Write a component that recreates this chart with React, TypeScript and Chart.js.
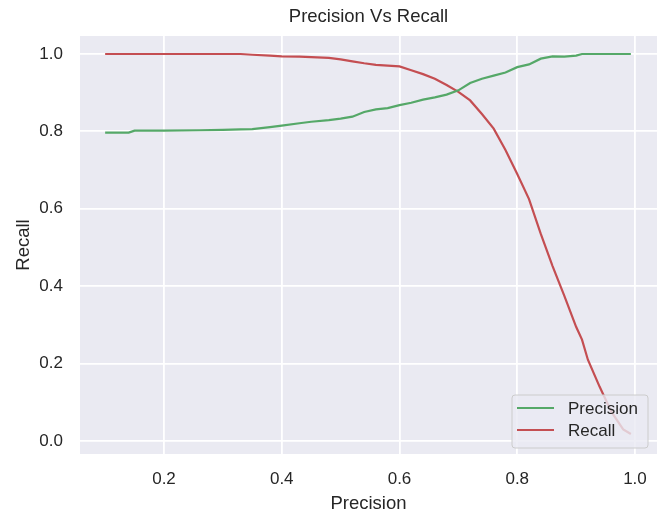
import React, { useEffect, useRef } from "react";
import { Chart, registerables } from "chart.js";

Chart.register(...registerables);

// ---- data ----
const thresholds = [
  0.10, 0.14, 0.15, 0.20, 0.26, 0.30, 0.33, 0.35, 0.38, 0.40,
  0.43, 0.45, 0.48, 0.50, 0.52, 0.54, 0.56, 0.58, 0.60, 0.62,
  0.64, 0.66, 0.68, 0.70, 0.72, 0.74, 0.76, 0.78, 0.80, 0.82,
  0.84, 0.86, 0.88, 0.90, 0.91, 0.92, 0.94, 0.96, 0.98, 0.993,
];

const precisionValues = [
  0.797, 0.797, 0.802, 0.802, 0.803, 0.804, 0.805, 0.806, 0.811, 0.815,
  0.821, 0.825, 0.829, 0.833, 0.838, 0.850, 0.857, 0.860, 0.868, 0.874,
  0.882, 0.888, 0.895, 0.906, 0.925, 0.936, 0.944, 0.952, 0.966, 0.973,
  0.988, 0.994, 0.993, 0.996, 1.0, 1.0, 1.0, 1.0, 1.0, 1.0,
];

const recallValues = [
  1.0, 1.0, 1.0, 1.0, 1.0, 1.0, 1.0, 0.998, 0.996, 0.994,
  0.993, 0.992, 0.990, 0.986, 0.981, 0.976, 0.972, 0.970, 0.968, 0.958,
  0.948, 0.936, 0.920, 0.902, 0.880, 0.845, 0.807, 0.752, 0.690, 0.625,
  0.535, 0.452, 0.375, 0.295, 0.262, 0.210, 0.140, 0.075, 0.030, 0.018,
];

const xTicks = [0.2, 0.4, 0.6, 0.8, 1.0];
const yTicks = [0.0, 0.2, 0.4, 0.6, 0.8, 1.0];

const titleText = "Precision Vs Recall";
const xTitle = "Precision";
const yTitle = "Recall";
const seriesNames = ["Precision", "Recall"];

const FONT = "'Liberation Sans', Arial, sans-serif";
const TEXT = "#262626";
const GREEN = "#55A868";
const RED = "#C44E52";
const BG = "#EAEAF2";

const bgPlugin = {
  id: "plotBg",
  beforeDraw(chart: any) {
    const { ctx, chartArea } = chart;
    ctx.save();
    ctx.fillStyle = BG;
    ctx.fillRect(chartArea.left, chartArea.top, chartArea.right - chartArea.left, chartArea.bottom - chartArea.top);
    ctx.restore();
  },
};

const legendPlugin = {
  id: "mplLegend",
  afterDatasetsDraw(chart: any) {
    const { ctx, chartArea } = chart;
    const w = 136;
    const h = 53;
    const right = chartArea.right - 9;
    const bottom = chartArea.bottom - 6;
    const left = right - w;
    const top = bottom - h;
    ctx.save();
    const r = 3;
    ctx.beginPath();
    ctx.moveTo(left + r, top);
    ctx.lineTo(right - r, top);
    ctx.arcTo(right, top, right, top + r, r);
    ctx.lineTo(right, bottom - r);
    ctx.arcTo(right, bottom, right - r, bottom, r);
    ctx.lineTo(left + r, bottom);
    ctx.arcTo(left, bottom, left, bottom - r, r);
    ctx.lineTo(left, top + r);
    ctx.arcTo(left, top, left + r, top, r);
    ctx.closePath();
    ctx.fillStyle = "rgba(234,234,242,0.8)";
    ctx.fill();
    ctx.strokeStyle = "#cccccc";
    ctx.lineWidth = 1;
    ctx.stroke();

    chart.data.datasets.forEach((ds: any, i: number) => {
      const y = top + 13 + i * 22;
      ctx.beginPath();
      ctx.moveTo(left + 5, y);
      ctx.lineTo(left + 42, y);
      ctx.strokeStyle = ds.borderColor;
      ctx.lineWidth = 2.2;
      ctx.stroke();
      ctx.fillStyle = TEXT;
      ctx.font = `17px ${FONT}`;
      ctx.textBaseline = "middle";
      ctx.textAlign = "left";
      ctx.fillText(ds.label, left + 56, y + 1);
    });
    ctx.restore();
  },
};

export default function App() {
  const canvasRef = useRef<HTMLCanvasElement | null>(null);

  useEffect(() => {
    document.body.style.margin = "0";
    const canvas = canvasRef.current;
    if (!canvas) return;
    const chart = new Chart(canvas, {
      type: "line",
      data: {
        datasets: [
          {
            label: seriesNames[0],
            data: thresholds.map((x, i) => ({ x, y: precisionValues[i] })),
            borderColor: GREEN,
            backgroundColor: GREEN,
            borderWidth: 2.2,
            pointRadius: 0,
            tension: 0,
            fill: false,
          },
          {
            label: seriesNames[1],
            data: thresholds.map((x, i) => ({ x, y: recallValues[i] })),
            borderColor: RED,
            backgroundColor: RED,
            borderWidth: 2.2,
            pointRadius: 0,
            tension: 0,
            fill: false,
          },
        ],
      },
      options: {
        responsive: false,
        animation: false,
        devicePixelRatio: 1,
        layout: { padding: { top: 0, right: 7, left: 0, bottom: 0 } },
        plugins: {
          legend: { display: false },
          tooltip: { enabled: false },
          title: {
            display: true,
            fullSize: false,
            text: titleText,
            color: TEXT,
            font: { family: FONT, size: 18.5, weight: "normal" },
            padding: { top: 6, bottom: 7.8 },
          },
        },
        scales: {
          x: {
            type: "linear",
            min: 0.0573,
            max: 1.0374,
            afterBuildTicks: (axis: any) => {
              axis.ticks = xTicks.map((v) => ({ value: v }));
            },
            afterFit: (scale: any) => {
              scale.height = 61;
            },
            border: { display: false },
            grid: { color: "#ffffff", lineWidth: 1.8, drawTicks: false },
            ticks: {
              color: TEXT,
              padding: 15,
              font: { family: FONT, size: 17 },
              callback: (v: any) => Number(v).toFixed(1),
            },
            title: {
              display: true,
              text: xTitle,
              color: TEXT,
              font: { family: FONT, size: 18.5 },
              padding: { top: 0, bottom: 0 },
            },
          },
          y: {
            type: "linear",
            min: -0.0336,
            max: 1.0465,
            afterBuildTicks: (axis: any) => {
              axis.ticks = yTicks.map((v) => ({ value: v }));
            },
            afterFit: (scale: any) => {
              scale.width = 80;
            },
            border: { display: false },
            grid: { color: "#ffffff", lineWidth: 1.8, drawTicks: false },
            ticks: {
              color: TEXT,
              padding: 17,
              font: { family: FONT, size: 17 },
              callback: (v: any) => Number(v).toFixed(1),
            },
            title: {
              display: true,
              text: yTitle,
              color: TEXT,
              font: { family: FONT, size: 18.5 },
              padding: { top: 12.5, bottom: 0 },
            },
          },
        },
      },
      plugins: [bgPlugin, legendPlugin],
    });
    return () => chart.destroy();
  }, []);

  return (
    <div style={{ width: 664, height: 515, position: "relative" }}>
      <canvas ref={canvasRef} width={664} height={515} style={{ display: "block" }} />
    </div>
  );
}
